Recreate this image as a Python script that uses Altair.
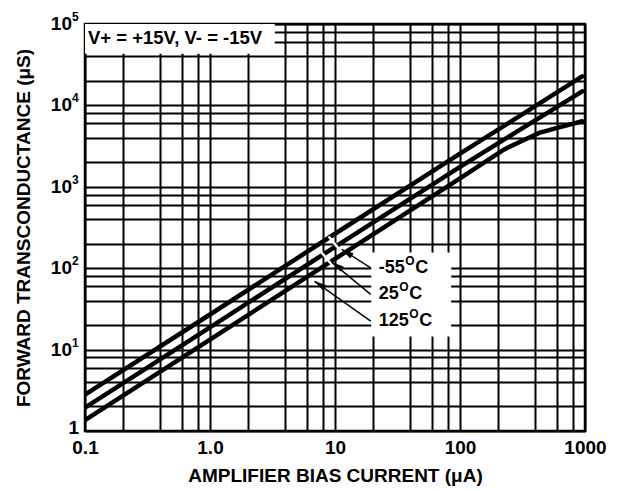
import altair as alt
import pandas as pd

FONT = "Liberation Sans"

# ---- curve data ----
bias_m55 = [0.1, 1, 10, 100, 950]
gm_m55 = [2.8, 27, 265, 2550, 22700]
bias_25 = [0.1, 1, 10, 100, 950]
gm_25 = [1.94, 18.8, 183, 1760, 14900]
bias_125 = [0.1, 1, 10, 100, 224, 300, 430, 600, 950]
gm_125 = [1.36, 13.3, 130, 1270, 2860, 3560, 4590, 5290, 6380]

# ---- axes ----
x_decades = [0.1, 1, 10, 100, 1000]
x_decade_labels = ["0.1", "1.0", "10", "100", "1000"]
y_decades = [1, 10, 100, 1000, 10000, 100000]
y_exponents = ["1", "2", "3", "4", "5"]
minor_steps = [1, 2, 4, 6, 8]

# ---- annotations ----
cond_text = ["V+ = +15V, V- = -15V"]
cond_box_x = [0.1, 3.3]
cond_box_y = [43000, 100000]
temp_box_x = [19.5, 85]
temp_box_y = [14.5, 156]
temps = ["-55", "25", "125"]
temp_label_x = [22.4, 22.4, 22.4]
temp_label_y = [101, 47.7, 22.4]
arrow_start_x = [19.3, 19.3, 19.3]
arrow_tip_x = [11.35, 9.5, 6.87]
arrow_tip_y = [170, 117, 69]
slash_x = [11.2, 9.4]
slash_x2 = [8.9, 7.7]
slash_y = [160, 111]
slash_y2 = [245, 160]

x_grid = sorted({round(m * d, 6) for d in x_decades[:-1] for m in minor_steps}) + [x_decades[-1]]
y_grid = sorted({round(m * d, 6) for d in y_decades[:-1] for m in minor_steps}) + [y_decades[-1]]

label_expr = "''"
for v, lab in reversed(list(zip(x_decades, x_decade_labels))):
    label_expr = f"abs(datum.value - {v}) < {v * 1e-6} ? '{lab}' : ({label_expr})"

x_scale = alt.Scale(type="log", domain=[x_decades[0], x_decades[-1]], nice=False)
y_scale = alt.Scale(type="log", domain=[y_decades[0], y_decades[-1]], nice=False)

x_axis = alt.Axis(
    values=x_grid, grid=True, gridColor="#000", gridWidth=2, gridOpacity=1,
    ticks=False, domain=False, labelExpr=label_expr, labelFont=FONT,
    labelFontWeight="bold", labelFontSize=19, labelColor="#000", labelPadding=7,
    labelOverlap=False, labelFlush=False, labelBound=False,
    title="AMPLIFIER BIAS CURRENT (μA)", titleFont=FONT, titleFontWeight="bold",
    titleFontSize=19, titleColor="#000", titleY=44, titleBaseline="middle",
)
y_axis = alt.Axis(
    values=y_grid, grid=True, gridColor="#000", gridWidth=2, gridOpacity=1,
    ticks=False, domain=False, labels=False,
    title="FORWARD TRANSCONDUCTANCE (μS)", titleFont=FONT, titleFontWeight="bold",
    titleFontSize=19, titleColor="#000", titleX=-62, titleY=203.5, titleAngle=270,
    titleBaseline="middle", titleAlign="center",
)


def X(field="x"):
    return alt.X(f"{field}:Q", scale=x_scale, axis=x_axis)


def Y(field="y"):
    return alt.Y(f"{field}:Q", scale=y_scale, axis=y_axis)


curves = pd.concat([
    pd.DataFrame({"x": bias_m55, "y": gm_m55, "s": "-55"}),
    pd.DataFrame({"x": bias_25, "y": gm_25, "s": "25"}),
    pd.DataFrame({"x": bias_125, "y": gm_125, "s": "125"}),
])

boxes = pd.DataFrame({
    "x": [cond_box_x[0], temp_box_x[0]], "x2": [cond_box_x[1], temp_box_x[1]],
    "y": [cond_box_y[0], temp_box_y[0]], "y2": [cond_box_y[1], temp_box_y[1]],
})

box_layer = alt.Chart(boxes).mark_rect(color="white").encode(
    x=X(), x2="x2:Q", y=Y(), y2="y2:Q")

line_layer = alt.Chart(curves).mark_line(
    color="black", strokeWidth=4.5, strokeCap="round", clip=True
).encode(x=X(), y=Y(), detail="s:N")

slashes = pd.DataFrame({"x": slash_x, "x2": slash_x2, "y": slash_y, "y2": slash_y2})
slash_layer = alt.Chart(slashes).mark_rule(color="white", strokeWidth=2.5).encode(
    x=X(), y=Y(), x2="x2:Q", y2="y2:Q")

arrows = pd.DataFrame({"x": arrow_start_x, "y": temp_label_y,
                       "x2": arrow_tip_x, "y2": arrow_tip_y})
arrow_layer = alt.Chart(arrows).mark_rule(color="black", strokeWidth=1.4).encode(
    x=X(), y=Y(), x2="x2:Q", y2="y2:Q")
head_layer = alt.Chart(arrows).mark_point(
    shape="M0,0L0.42,1.8L-0.42,1.8Z", filled=True, color="black", opacity=1,
    size=170, angle=303, stroke="black", strokeWidth=0.5,
).encode(x=X("x2"), y=Y("y2"))

cond_layer = alt.Chart(pd.DataFrame({"t": cond_text})).mark_text(
    align="left", baseline="middle", font=FONT, fontWeight="bold", fontSize=18.5,
    color="black",
).encode(x=alt.value(3), y=alt.value(14), text="t:N")

# y axis labels drawn as 10 + superscript exponent
ylab_one = alt.Chart(pd.DataFrame({"y": y_decades[:1], "t": ["1"]})).mark_text(
    align="right", baseline="middle", font=FONT, fontWeight="bold", fontSize=19,
    color="black", dy=-3,
).encode(x=alt.value(-6), y=Y(), text="t:N")
ylab_ten = alt.Chart(pd.DataFrame({"y": y_decades[1:], "t": ["10"] * 5})).mark_text(
    align="right", baseline="middle", font=FONT, fontWeight="bold", fontSize=19,
    color="black", dy=0,
).encode(x=alt.value(-13), y=Y(), text="t:N")
ylab_exp = alt.Chart(pd.DataFrame({"y": y_decades[1:], "t": y_exponents})).mark_text(
    align="left", baseline="middle", font=FONT, fontWeight="bold", fontSize=12,
    color="black", dy=-7,
).encode(x=alt.value(-13), y=Y(), text="t:N")

# temperature labels: number + superscript O + C
glyph_w = {"-": 0.333, "0": 0.556, "1": 0.556, "2": 0.556, "5": 0.556}
TFS = 18
temp_layers = []
for t, lx, ly in zip(temps, temp_label_x, temp_label_y):
    w = sum(glyph_w[c] for c in t) * TFS
    df = pd.DataFrame({"x": [lx], "y": [ly]})
    base = alt.Chart(df)
    temp_layers.append(base.mark_text(
        align="left", baseline="middle", font=FONT, fontWeight="bold",
        fontSize=TFS, color="black").encode(x=X(), y=Y(), text=alt.value(t)))
    temp_layers.append(base.mark_text(
        align="left", baseline="middle", font=FONT, fontWeight="bold",
        fontSize=12, color="black", dx=w + 0.5, dy=-7).encode(
        x=X(), y=Y(), text=alt.value("O")))
    temp_layers.append(base.mark_text(
        align="left", baseline="middle", font=FONT, fontWeight="bold",
        fontSize=TFS, color="black", dx=w + 0.778 * 12 + 1).encode(
        x=X(), y=Y(), text=alt.value("C")))

chart = alt.layer(
    box_layer, line_layer, slash_layer, arrow_layer, head_layer, cond_layer,
    ylab_one, ylab_ten, ylab_exp, *temp_layers,
).properties(
    width=500, height=407,
    autosize=alt.AutoSizeParams(type="none"),
    padding={"left": 77, "top": 16, "right": 40, "bottom": 60},
    background="white",
).configure_view(stroke="black", strokeWidth=2.5)

chart.save("out.html", embed_options={"renderer": "svg", "actions": False})
